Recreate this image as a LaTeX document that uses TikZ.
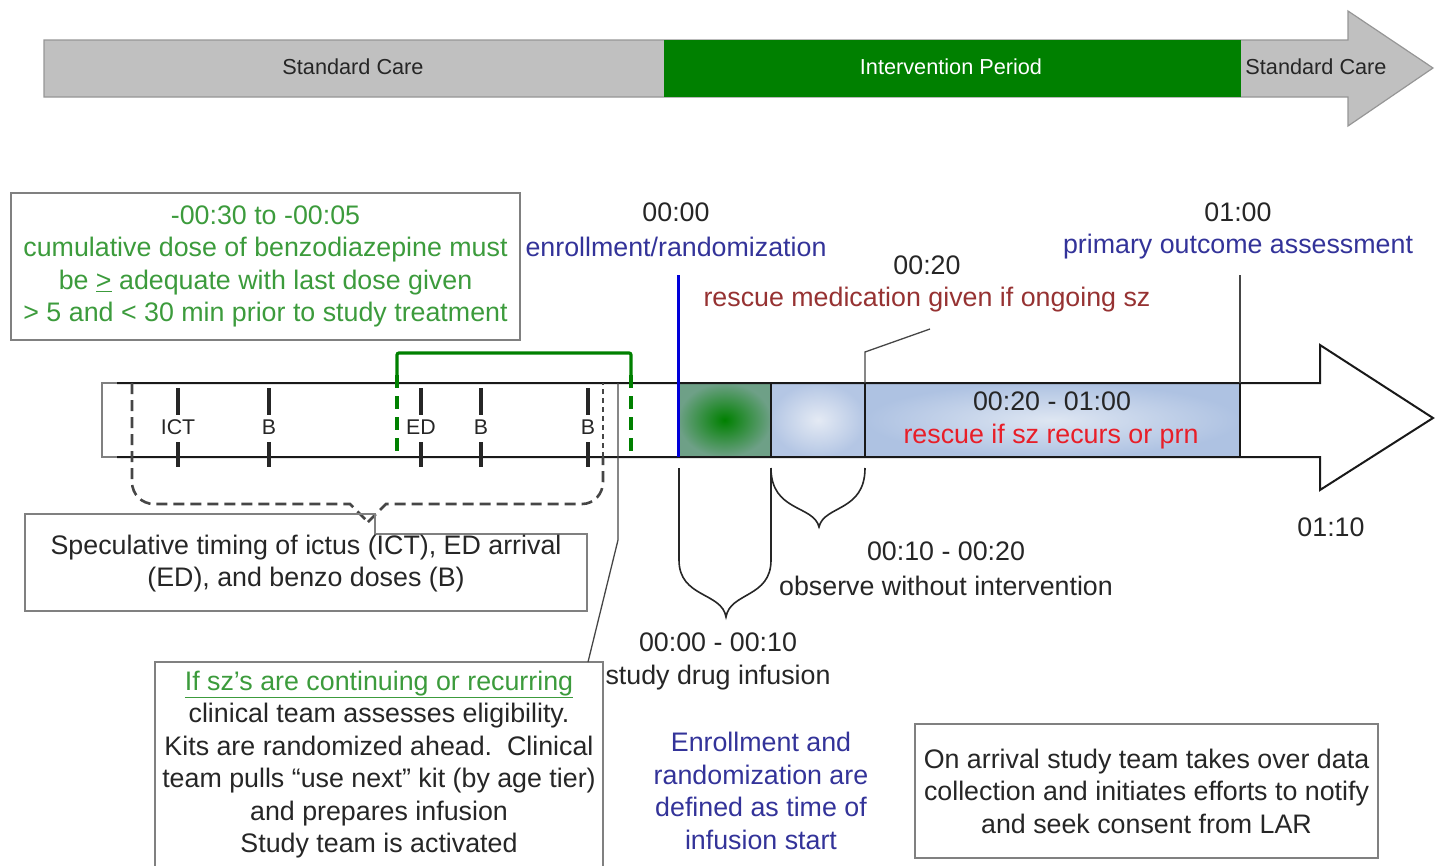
\documentclass[tikz,border=0pt]{standalone}
\usepackage{fontspec}
\setmainfont{Liberation Sans}
\definecolor{barGray}{RGB}{192,192,192}
\definecolor{barEdge}{RGB}{150,150,150}
\definecolor{interGreen}{RGB}{0,128,0}
\definecolor{txtGreen}{RGB}{60,155,60}
\definecolor{txtNavy}{RGB}{51,51,153}
\definecolor{txtBrown}{RGB}{150,50,50}
\definecolor{txtRed}{RGB}{232,30,40}
\definecolor{boxEdge}{RGB}{128,128,128}
\definecolor{lineGray}{RGB}{70,70,70}
\tikzset{
  base/.style={inner sep=0pt, font=\fontsize{26.8}{32.5}\selectfont, text=black!85},
  toplabel/.style={base, font=\fontsize{21.7}{24}\selectfont},
  ticklabel/.style={base, font=\fontsize{21.3}{24}\selectfont},
  framebox/.style={draw=boxEdge, line width=1.3},
  tickmark/.style={line width=3.6, black!85},
  greendash/.style={interGreen, line width=3.2, dash pattern=on 13pt off 8pt},
  bracedash/.style={lineGray, line width=2.6, dash pattern=on 11pt off 6pt},
  thinline/.style={lineGray, line width=1.3},
}
\begin{document}
\begin{tikzpicture}[x=1pt,y=-1pt]
\useasboundingbox (0,0) rectangle (1435,865);

% ---------- top phase arrow ----------
\draw[draw=barEdge, fill=barGray, line width=1.2] (44,40) -- (1348,40) -- (1348,11) -- (1433,68) -- (1348,126) -- (1348,97) -- (44,97) -- cycle;
\fill[interGreen] (664,40) rectangle (1241,97);
\node[toplabel] (sc1) at (353,67) {Standard Care};
\node[toplabel, text=white] (ip) at (951,67) {Intervention Period};
\node[toplabel] (sc2) at (1316,67) {Standard Care};

% ---------- timeline blocks ----------
\shade[inner color=interGreen, outer color={rgb,255:red,110;green,160;blue,135}] (678,383) rectangle (771,457);
\shade[inner color={rgb,255:red,228;green,234;blue,244}, outer color={rgb,255:red,180;green,198;blue,228}] (771,383) rectangle (865,457);
\shade[inner color={rgb,255:red,222;green,230;blue,242}, outer color={rgb,255:red,174;green,194;blue,226}] (865,383) rectangle (1240,457);

\draw[boxEdge, line width=1.3] (117,383) -- (102,383) -- (102,457) -- (117,457);
\draw[black!90, line width=2] (117,383) -- (1320,383) -- (1320,345) -- (1433,418) -- (1320,490) -- (1320,457) -- (117,457);
\draw[black!90, line width=1.8] (771,383) -- (771,457) (865,383) -- (865,457) (1240,383) -- (1240,457);

% ticks
\foreach \x/\n/\t in {178/ict/ICT, 269/b1/B, 421/ed/ED, 481/b2/B, 588/b3/B}{
  \draw[tickmark] (\x,388) -- (\x,415) (\x,442) -- (\x,467);
  \node[ticklabel] (\n) at (\x,427) {\t};
}

% speculative dashed brace
\coordinate (specTip) at (368,522);
\draw[bracedash] (132,383) -- (132,482) to[out=90+180,in=180] (154,504) -- (350,504) -- (specTip);
\draw[bracedash] (specTip) -- (386,504) -- (582,504) to[out=0,in=-90] (603,482) -- (603,457);
\draw[lineGray, line width=1.3, dash pattern=on 5pt off 4pt] (603,457) -- (603,383);

% green window bracket
\draw[interGreen, line width=3.2, rounded corners=2] (397,375) -- (397,353) -- (631,353) -- (631,375);
\draw[greendash] (397,375) -- (397,457);
\draw[greendash] (631,375) -- (631,457);

% vertical markers
\draw[blue!85!black, line width=3] (678,275) -- (678,457);
\draw[thinline] (1240,275) -- (1240,383);
\draw[thinline] (865,383) -- (865,352) -- (930,329);

% ---------- text above timeline ----------
\node[base] (t0) at (676,212) {00:00};
\node[base, text=txtNavy] (enr) at (676,247) {enrollment/randomization};
\node[base] (t20) at (927,265) {00:20};
\node[base, text=txtBrown] (resc) at (927,300) {rescue medication given if ongoing sz};
\node[base] (t60) at (1238,212) {01:00};
\node[base, text=txtNavy] (prim) at (1238,247) {primary outcome assessment};
\node[base] (t70) at (1331,527) {01:10};

\node[base] (blk) at (1052,401) {00:20 - 01:00};
\node[base, text=txtRed] (blkr) at (1051,437) {rescue if sz recurs or prn};

% green box
\node[base, framebox, text=txtGreen, align=center, minimum width=509, minimum height=147] (greenbox) at (265.5,266.5)
  {-00:30 to -00:05\\cumulative dose of benzodiazepine must\\be \underline{>} adequate with last dose given\\> 5 and < 30 min prior to study treatment};

% ---------- braces below timeline ----------
\coordinate (inf) at (726,617);
\coordinate (obs) at (819,527);
\draw[black!85, line width=1.6] (679,468) -- (679,560) .. controls (679,598) and (722,592) .. (inf) .. controls (730,592) and (771,598) .. (771,560) -- (771,468);
\draw[black!85, line width=1.6] (771,468) .. controls (771,512) and (814,505) .. (obs) .. controls (824,505) and (865,512) .. (865,468);

\node[base] (t1020) at (946,551) {00:10 - 00:20};
\node[base] (obst) at (946,586) {observe without intervention};
\node[base] (t0010) at (718,642) {00:00 - 00:10};
\node[base] (sdi) at (718,678) {study drug infusion};

% speculative box
\draw[framebox] (25,514) -- (375,514) -- (375,534) -- (587,534) -- (587,611) -- (25,611) -- cycle;
\node[base, align=center] (spec) at (306,563.5) {Speculative timing of ictus (ICT), ED arrival\\(ED), and benzo doses (B)};

% bottom-left box
\draw[framebox] (155,870) -- (155,662) -- (603,662) -- (603,870);
\node[base, align=center] (clin) at (379,764.5) {\textcolor{txtGreen}{\underline{If sz's are continuing or recurring}}\\clinical team assesses eligibility.\\Kits are randomized ahead.\ \ Clinical\\team pulls “use next” kit (by age tier)\\and prepares infusion\\Study team is activated};
\coordinate (clinTop) at (588,662);
\draw[thinline] (618,383) -- (618,540) -- (clinTop);

% enrollment definition
\node[base, text=txtNavy, align=center] (def) at (761,791) {Enrollment and\\randomization are\\defined as time of\\infusion start};

% right box
\node[base, framebox, align=center, minimum width=463, minimum height=134] (arr) at (1146.5,791)
  {On arrival study team takes over data\\collection and initiates efforts to notify\\and seek consent from LAR};
\end{tikzpicture}
\end{document}
